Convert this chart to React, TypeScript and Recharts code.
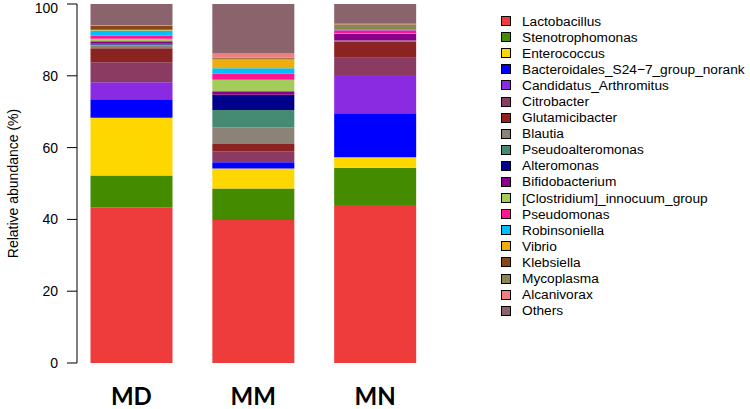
import React from 'react';
import { BarChart, Bar, XAxis, YAxis, Legend } from 'recharts';

const categories = ['MD', 'MM', 'MN'];

const genera = [
  'Lactobacillus',
  'Stenotrophomonas',
  'Enterococcus',
  'Bacteroidales_S24\u22127_group_norank',
  'Candidatus_Arthromitus',
  'Citrobacter',
  'Glutamicibacter',
  'Blautia',
  'Pseudoalteromonas',
  'Alteromonas',
  'Bifidobacterium',
  '[Clostridium]_innocuum_group',
  'Pseudomonas',
  'Robinsoniella',
  'Vibrio',
  'Klebsiella',
  'Mycoplasma',
  'Alcanivorax',
  'Others',
];

const colors = [
  '#EE3B3B', '#458B00', '#FFD700', '#0000FF', '#8A2BE2', '#8B3A62', '#8B2323',
  '#8B8378', '#458B74', '#00008B', '#8B008B', '#A2CD5A', '#FF1493', '#00BFFF',
  '#EEAD0E', '#8B4513', '#8B864E', '#F08080', '#8B636C',
];

// values per genus for MD, MM, MN (%)
const lactobacillus = [43.4, 39.8, 44.0];
const stenotrophomonas = [8.8, 8.8, 10.4];
const enterococcus = [16.1, 5.6, 2.9];
const bacteroidales = [5.2, 1.7, 12.3];
const candidatus = [4.7, 0.1, 10.6];
const citrobacter = [5.6, 3.0, 4.8];
const glutamicibacter = [3.9, 2.0, 4.4];
const blautia = [0.8, 4.7, 0.4];
const pseudoalteromonas = [0.2, 4.8, 0.0];
const alteromonas = [0.2, 4.2, 0.0];
const bifidobacterium = [0.7, 1.0, 2.0];
const clostridium = [0.7, 3.2, 0.1];
const pseudomonas = [0.85, 1.7, 0.8];
const robinsoniella = [1.5, 1.5, 0.1];
const vibrio = [0.2, 2.5, 0.05];
const klebsiella = [1.1, 0.3, 0.1];
const mycoplasma = [0.1, 0.2, 1.4];
const alcanivorax = [0.1, 1.1, 0.15];
const others = [5.85, 13.8, 5.5];

const seriesValues = [
  lactobacillus, stenotrophomonas, enterococcus, bacteroidales, candidatus,
  citrobacter, glutamicibacter, blautia, pseudoalteromonas, alteromonas,
  bifidobacterium, clostridium, pseudomonas, robinsoniella, vibrio,
  klebsiella, mycoplasma, alcanivorax, others,
];

const yTicks = [0, 20, 40, 60, 80, 100];

const data = categories.map((c, ci) => {
  const row: Record<string, number | string> = { name: c };
  genera.forEach((g, gi) => {
    row['s' + gi] = seriesValues[gi][ci];
  });
  return row;
});

const FONT = '"Liberation Sans", Arial, sans-serif';

const LegendContent = () => (
  <div style={{ fontFamily: FONT, fontSize: 13.7, color: '#000' }}>
    {genera.map((g, i) => (
      <div key={g} style={{ display: 'flex', alignItems: 'center', height: 16.1 }}>
        <div
          style={{
            width: 8,
            height: 8,
            background: colors[i],
            border: '1px solid #000',
            marginRight: 11,
            flexShrink: 0,
          }}
        />
        <span style={{ whiteSpace: 'nowrap' }}>{g}</span>
      </div>
    ))}
  </div>
);

export default function App() {
  return (
    <div style={{ width: 750, height: 409, position: 'relative', background: '#fff', overflow: 'hidden' }}>
      <style>{`body{margin:0}`}</style>
      <BarChart
        width={750}
        height={409}
        data={data}
        margin={{ top: 4, right: 314, bottom: 0, left: 0 }}
        barSize={82}
      >
        <XAxis
          dataKey="name"
          axisLine={false}
          tickLine={false}
          height={46}
          tickMargin={19}
          padding={{ left: -6.5, right: 0 }}
          tick={{ fontSize: 24, fontWeight: 'bold', fill: '#000', fontFamily: 'Lato, "Open Sans", sans-serif' }}
        />
        <YAxis
          domain={[0, 100]}
          ticks={yTicks}
          width={77}
          tickSize={10}
          tickMargin={9}
          axisLine={{ stroke: '#000' }}
          tickLine={{ stroke: '#000' }}
          tick={{ fontSize: 14, fill: '#000', fontFamily: FONT }}
          label={{
            value: 'Relative abundance (%)',
            angle: -90,
            position: 'center',
            dx: -25.5,
            style: { fontSize: 14, fill: '#000', fontFamily: FONT },
          }}
        />
        <Legend
          layout="vertical"
          align="center"
          verticalAlign="middle"
          content={<LegendContent />}
          wrapperStyle={{ position: 'absolute', left: 501, top: 13, width: 249 }}
        />
        {genera.map((g, i) => (
          <Bar
            key={g}
            dataKey={'s' + i}
            name={g}
            stackId="a"
            fill={colors[i]}
            isAnimationActive={false}
          />
        ))}
      </BarChart>
    </div>
  );
}
